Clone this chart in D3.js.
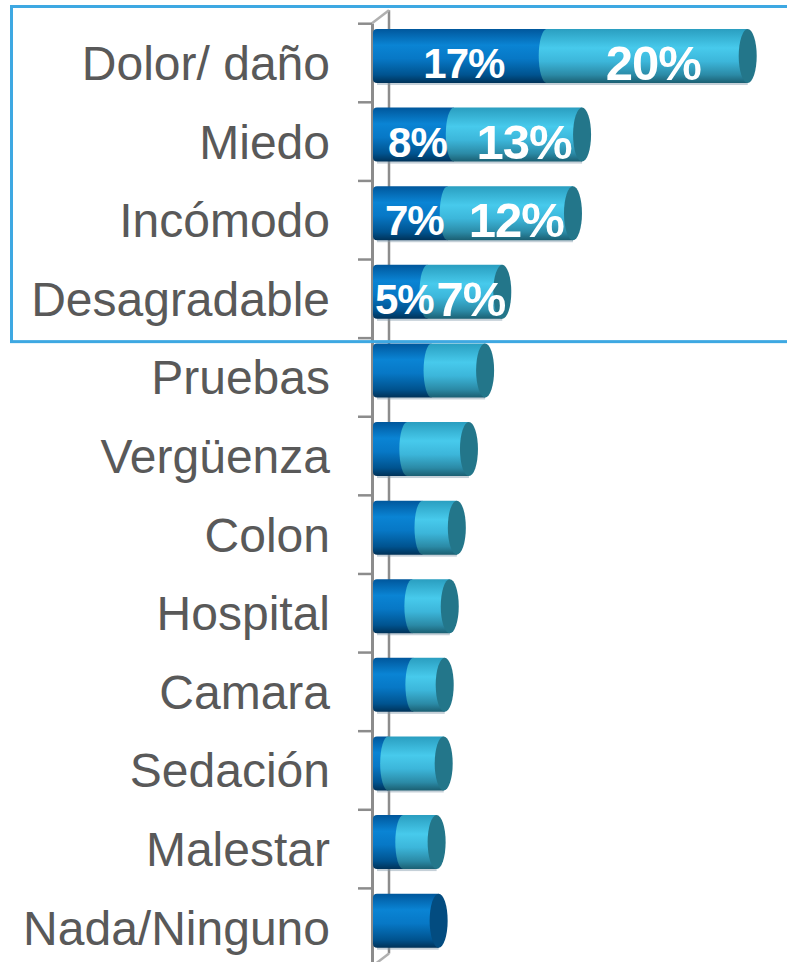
<!DOCTYPE html>
<html>
<head>
<meta charset="utf-8">
<script src="https://cdn.jsdelivr.net/npm/d3@7"></script>
<style>
  body { margin: 0; background: #fff; }
  svg { display: block; }
</style>
</head>
<body>
<script>
// categories, top to bottom
var categories = ["Dolor/ daño", "Miedo", "Incómodo", "Desagradable", "Pruebas", "Vergüenza",
    "Colon", "Hospital", "Camara", "Sedación", "Malestar", "Nada/Ninguno"];
// dark blue series and light blue series (percent)
var seriesA = [17.2, 8.0, 7.4, 5.4, 5.8, 3.4, 4.9, 3.9, 4.0, 1.5, 3.0, 6.5];
var seriesB = [19.9, 12.7, 12.4, 7.4, 5.3, 6.1, 3.4, 3.7, 3.1, 5.5, 3.3, 0];
// value labels (only the boxed rows carry them)
var labelsA = ["17%", "8%", "7%", "5%", "", "", "", "", "", "", "", ""];
var labelsB = ["20%", "13%", "12%", "7%", "", "", "", "", "", "", "", ""];

const canvWidth = 787, canvHeight = 962;
const depth = 6.5;   // half of the 3d offset of the axis walls

const svg = d3.select("body").append("svg")
    .attr("width", canvWidth)
    .attr("height", canvHeight);

const defs = svg.append("defs");

function addGradient(id, stops) {
    var gr = defs.append("linearGradient")
        .attr("id", id)
        .attr("x1", 0).attr("y1", 0).attr("x2", 0).attr("y2", 1);
    stops.forEach(function (s) {
        gr.append("stop").attr("offset", s[0]).attr("stop-color", s[1]);
    });
}
addGradient("gDark", [[0, "#00579c"], [0.3, "#0a84d4"], [0.55, "#0778c6"], [0.85, "#00538f"], [1, "#003258"]]);
addGradient("gLight", [[0, "#2a9ec0"], [0.35, "#47caec"], [0.6, "#3cb6da"], [0.85, "#2b8aa6"], [1, "#1b5f72"]]);

// scales
const xScale = d3.scaleLinear()
    .domain([0, 40])
    .range([373, 777]);

const yScale = d3.scaleBand()
    .domain(categories)
    .range([16.7, 960])
    .paddingInner(0.313)
    .paddingOuter(0.1565);

// scale for the category boundaries (tick positions)
const yBound = d3.scaleLinear()
    .domain([0, categories.length])
    .range([16.7, 960]);

const axisColor = "#8c8c8c";

// back wall line
svg.append("line")
    .attr("x1", 389).attr("x2", 389)
    .attr("y1", yBound(0) - depth).attr("y2", yBound(categories.length) - depth)
    .attr("stroke", axisColor).attr("stroke-width", 2.5);

// top and bottom diagonals connecting the walls
[0, categories.length].forEach(function (i) {
    svg.append("line")
        .attr("x1", 372).attr("y1", yBound(i) + depth)
        .attr("x2", 389).attr("y2", yBound(i) - depth)
        .attr("stroke", "#b0b0b0").attr("stroke-width", 2.5);
});

// front axis with ticks between the categories
const yAxis = d3.axisLeft(yBound)
    .ticks(categories.length)
    .tickSize(14)
    .tickSizeOuter(0)
    .tickFormat("");

const axisG = svg.append("g")
    .attr("transform", "translate(372," + depth + ")")
    .call(yAxis);
axisG.select(".domain").attr("stroke", axisColor).attr("stroke-width", 3);
axisG.selectAll(".tick line").attr("stroke", axisColor).attr("stroke-width", 2.5);

// category labels
svg.append("g").selectAll("text")
    .data(categories)
    .enter()
    .append("text")
    .attr("x", 330)
    .attr("y", d => yScale(d) + yScale.bandwidth() / 2 + 24)
    .attr("text-anchor", "end")
    .attr("font-family", "Liberation Sans, Arial, sans-serif")
    .attr("font-size", "48px")
    .attr("fill", "#595959")
    .text(d => d);

// bars
const rows = categories.map(function (c, i) {
    return {cat: c, a: seriesA[i], b: seriesB[i], la: labelsA[i], lb: labelsB[i]};
});

const h = yScale.bandwidth();
const rx = 8;

const bars = svg.append("g").selectAll("g")
    .data(rows)
    .enter()
    .append("g")
    .attr("transform", d => "translate(0," + yScale(d.cat) + ")");

// faint shadow under the cylinder
bars.append("rect")
    .attr("x", xScale(0) + 4)
    .attr("y", h - 1)
    .attr("width", d => xScale(d.a + d.b) - xScale(0) - 4)
    .attr("height", 3)
    .attr("fill", "#7f96a8")
    .attr("opacity", 0.45);

// dark segment
bars.append("path")
    .attr("d", function (d) {
        var x0 = xScale(0), x1 = xScale(d.a);
        return "M" + (x0 + 4) + ",0 L" + x1 + ",0 L" + x1 + "," + h + " L" + (x0 + 4) + "," + h +
            " A4,4 0 0 1 " + x0 + "," + (h - 4) + " L" + x0 + ",4 A4,4 0 0 1 " + (x0 + 4) + ",0 Z";
    })
    .attr("fill", "url(#gDark)");

// light segment, its left edge is the back of the seam ellipse
bars.filter(d => d.b > 0).append("path")
    .attr("d", function (d) {
        var x1 = xScale(d.a), x2 = xScale(d.a + d.b);
        return "M" + x1 + ",0 L" + x2 + ",0 L" + x2 + "," + h + " L" + x1 + "," + h +
            " A" + rx + "," + (h / 2) + " 0 0 1 " + x1 + ",0 Z";
    })
    .attr("fill", "url(#gLight)");

// end cap
bars.append("ellipse")
    .attr("cx", d => xScale(d.a + d.b))
    .attr("cy", h / 2)
    .attr("rx", rx + 1)
    .attr("ry", h / 2)
    .attr("fill", d => d.b > 0 ? "#23768a" : "#034c80");

// value labels
bars.filter(d => d.la).append("text")
    .attr("x", d => (xScale(0) + xScale(d.a)) / 2 + 4)
    .attr("y", h / 2 + 22)
    .attr("text-anchor", "middle")
    .attr("font-family", "Liberation Sans, Arial, sans-serif")
    .attr("font-weight", "bold")
    .attr("font-size", "42px")
    .attr("letter-spacing", "-1px")
    .attr("fill", "#fff")
    .text(d => d.la);

bars.filter(d => d.lb).append("text")
    .attr("x", d => (xScale(d.a) + xScale(d.a + d.b)) / 2 + 6)
    .attr("y", h / 2 + 24)
    .attr("text-anchor", "middle")
    .attr("font-family", "Liberation Sans, Arial, sans-serif")
    .attr("font-weight", "bold")
    .attr("font-size", "49px")
    .attr("letter-spacing", "-1px")
    .attr("fill", "#fff")
    .text(d => d.lb);

// highlight box around the first four categories
svg.append("rect")
    .attr("x", 11.5)
    .attr("y", 6.5)
    .attr("width", 800)
    .attr("height", yBound(4) + depth - 6.5 + 4)
    .attr("fill", "none")
    .attr("stroke", "#3ea8e2")
    .attr("stroke-width", 3);
</script>
</body>
</html>
